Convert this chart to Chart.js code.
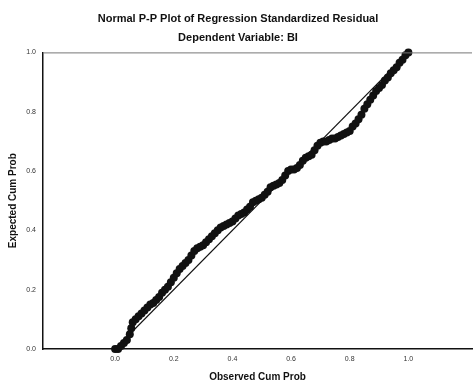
<!DOCTYPE html>
<html>
<head>
<meta charset="utf-8">
<script src="https://cdn.jsdelivr.net/npm/chart.js@4"></script>
<style>
  html, body { margin: 0; padding: 0; background: #fff; }
  #wrap { width: 476px; height: 387px; }
</style>
</head>
<body>
<div id="wrap"><canvas id="chart1"></canvas></div>
<script>
// observed cumulative probability (x) and expected cumulative probability (y)
const observed = [0.00, 0.01, 0.02, 0.03, 0.04, 0.05, 0.055, 0.06, 0.07, 0.08, 0.09, 0.10, 0.11, 0.12, 0.13, 0.14,
  0.15, 0.16, 0.17, 0.18, 0.19, 0.20, 0.21, 0.22, 0.23, 0.24, 0.25, 0.26, 0.27, 0.28, 0.29, 0.30, 0.31, 0.32,
  0.33, 0.34, 0.35, 0.36, 0.37, 0.38, 0.39, 0.40, 0.41, 0.42, 0.43, 0.44, 0.45, 0.46, 0.47, 0.48, 0.49, 0.50,
  0.51, 0.52, 0.53, 0.54, 0.55, 0.56, 0.57, 0.58, 0.59, 0.60, 0.61, 0.62, 0.63, 0.64, 0.65, 0.66, 0.67, 0.68,
  0.69, 0.70, 0.71, 0.72, 0.73, 0.74, 0.75, 0.76, 0.77, 0.78, 0.79, 0.80, 0.81, 0.82, 0.83, 0.84, 0.85, 0.86,
  0.87, 0.88, 0.89, 0.90, 0.91, 0.92, 0.93, 0.94, 0.95, 0.96, 0.97, 0.98, 0.99, 1.00];
const expected = [0.00, 0.00, 0.01, 0.02, 0.03, 0.05, 0.07, 0.09, 0.10, 0.11, 0.12, 0.13, 0.14, 0.15, 0.155, 0.165,
  0.175, 0.19, 0.20, 0.21, 0.225, 0.24, 0.255, 0.27, 0.28, 0.29, 0.30, 0.315, 0.33, 0.34, 0.345, 0.35, 0.36, 0.37,
  0.38, 0.39, 0.40, 0.41, 0.415, 0.42, 0.425, 0.43, 0.44, 0.45, 0.455, 0.46, 0.47, 0.48, 0.495, 0.50, 0.505, 0.51,
  0.52, 0.53, 0.545, 0.55, 0.555, 0.56, 0.57, 0.585, 0.60, 0.605, 0.605, 0.61, 0.62, 0.635, 0.645, 0.65, 0.655, 0.67,
  0.685, 0.695, 0.70, 0.70, 0.705, 0.71, 0.71, 0.715, 0.72, 0.725, 0.73, 0.735, 0.75, 0.76, 0.775, 0.79, 0.81, 0.825,
  0.84, 0.855, 0.87, 0.88, 0.89, 0.905, 0.915, 0.93, 0.94, 0.95, 0.965, 0.975, 0.99, 1.00];
const diagX = [0, 1];
const diagY = [0, 1];
const tickValues = [0, 0.2, 0.4, 0.6, 0.8, 1.0];
const tickLabels = ['0.0', '0.2', '0.4', '0.6', '0.8', '1.0'];

const topLine = {
  id: 'topLine',
  afterDraw(chart) {
    const a = chart.chartArea, ctx = chart.ctx;
    ctx.save();
    ctx.strokeStyle = '#777';
    ctx.lineWidth = 1;
    ctx.beginPath();
    ctx.moveTo(a.left, a.top + 0.5);
    ctx.lineTo(a.right, a.top + 0.5);
    ctx.stroke();
    ctx.restore();
  }
};

const ctx = document.getElementById('chart1').getContext('2d');
new Chart(ctx, {
  type: 'scatter',
  data: {
    datasets: [
      {
        type: 'line',
        data: diagX.map((x, i) => ({ x: x, y: diagY[i] })),
        borderColor: '#111',
        borderWidth: 1.2,
        pointRadius: 0,
        fill: false
      },
      {
        data: observed.map((x, i) => ({ x: x, y: expected[i] })),
        backgroundColor: '#111',
        borderColor: '#111',
        pointRadius: 4,
        borderWidth: 0,
        clip: false
      }
    ]
  },
  plugins: [topLine],
  options: {
    responsive: true,
    maintainAspectRatio: false,
    animation: false,
    layout: { padding: 0 },
    plugins: {
      legend: { display: false },
      tooltip: { enabled: false },
      title: {
        display: true,
        text: 'Normal P-P Plot of Regression Standardized Residual',
        color: '#111',
        font: { family: 'Liberation Sans', size: 11, weight: 'bold' },
        padding: { top: 12, bottom: 4 }
      },
      subtitle: {
        display: true,
        text: 'Dependent Variable: BI',
        color: '#111',
        font: { family: 'Liberation Sans', size: 11, weight: 'bold' },
        padding: { top: 2, bottom: 8 }
      }
    },
    scales: {
      x: {
        type: 'linear',
        min: -0.246,
        max: 1.217,
        afterBuildTicks: s => { s.ticks = tickValues.map(v => ({ value: v })); },
        afterFit: s => { s.height = 38; },
        grid: { display: false, drawTicks: true, tickLength: 4, tickColor: '#222' },
        border: { color: '#111', width: 1.5 },
        ticks: {
          color: '#333',
          font: { family: 'Liberation Sans', size: 7 },
          padding: 2,
          maxRotation: 0,
          callback: (v, i) => tickLabels[i]
        },
        title: {
          display: true,
          text: 'Observed Cum Prob',
          color: '#111',
          font: { family: 'Liberation Sans', size: 10, weight: 'bold' },
          padding: { top: 2, bottom: 4 }
        }
      },
      y: {
        type: 'linear',
        min: 0,
        max: 1,
        afterBuildTicks: s => { s.ticks = tickValues.map(v => ({ value: v })); },
        afterFit: s => { s.width = 43; },
        grid: { display: false, drawTicks: true, tickLength: 3, tickColor: '#222' },
        border: { color: '#111', width: 1.5 },
        ticks: {
          color: '#333',
          font: { family: 'Liberation Sans', size: 7 },
          padding: 4,
          callback: (v, i) => tickLabels[i]
        },
        title: {
          display: true,
          text: 'Expected Cum Prob',
          color: '#111',
          font: { family: 'Liberation Sans', size: 10, weight: 'bold' },
          padding: { top: 7, bottom: 2 }
        }
      }
    }
  }
});
</script>
</body>
</html>
